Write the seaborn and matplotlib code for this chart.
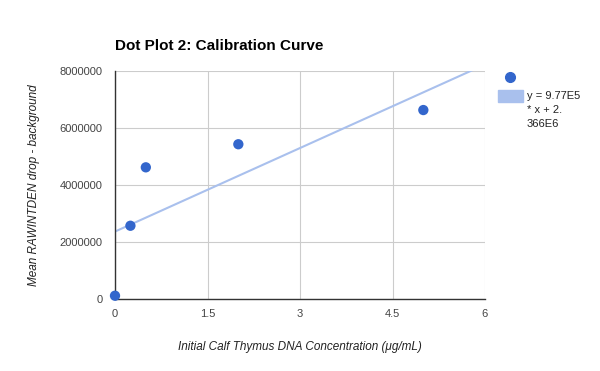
import numpy as np
import pandas as pd
import matplotlib
matplotlib.use("Agg")
import matplotlib.pyplot as plt
import matplotlib.patches as mpatches
from matplotlib.lines import Line2D
import seaborn as sns

# data
conc = [0, 0.25, 0.5, 2, 5]
rawintden = [115000, 2570000, 4620000, 5430000, 6630000]
slope = 9.77e5
intercept = 2.366e6
x_ticks = [0, 1.5, 3, 4.5, 6]
y_ticks = [0, 2000000, 4000000, 6000000, 8000000]
trend_label = ["y = 9.77E5", "* x + 2.", "366E6"]

df = pd.DataFrame({"conc": conc, "val": rawintden})

sns.set_style("white")
plt.rcParams["font.family"] = ["Liberation Sans", "DejaVu Sans"]

W, H = 600, 371
fig = plt.figure(figsize=(6, 3.71), dpi=100)
ax = fig.add_axes([115 / W, 1 - 299 / H, 370 / W, 228 / H])

ax.set_xlim(0, 6)
ax.set_ylim(0, 8000000)

# trendline
line_x = np.array([0, 6])
line_df = pd.DataFrame({"x": line_x, "y": slope * line_x + intercept})
sns.lineplot(data=line_df, x="x", y="y", ax=ax, color="#a9c0ed", linewidth=1.5, zorder=2)

sns.scatterplot(data=df, x="conc", y="val", ax=ax, color="#3366cc", s=55,
                edgecolor="none", zorder=3, clip_on=False)

ax.set_xticks(x_ticks)
ax.set_xticklabels(["0", "1.5", "3", "4.5", "6"])
ax.set_yticks(y_ticks)
ax.set_yticklabels([str(v) for v in y_ticks])
ax.tick_params(axis="both", length=0, labelsize=8, colors="#444444")
ax.tick_params(axis="y", pad=9)
ax.tick_params(axis="x", pad=7)
ax.grid(True, color="#cccccc", linewidth=0.8)
ax.set_axisbelow(True)
for s in ["top", "right"]:
    ax.spines[s].set_visible(False)
for s in ["left", "bottom"]:
    ax.spines[s].set_color("#333333")
    ax.spines[s].set_linewidth(1)

ax.set_xlabel("Initial Calf Thymus DNA Concentration (μg/mL)", fontsize=8.5,
              style="italic", color="#222222", labelpad=16)
ax.set_ylabel("Mean RAWINTDEN drop - background", fontsize=8.5,
              style="italic", color="#222222", labelpad=14)

fig.text(115 / W, 1 - 46 / H, "Dot Plot 2: Calibration Curve",
         fontsize=11, fontweight="bold", color="#000000", va="center")

# legend, placed by hand
fig.add_artist(Line2D([510 / W], [1 - 77 / H], marker="o", color="#3366cc",
                      linestyle="none", markersize=7))
fig.add_artist(mpatches.Rectangle((498 / W, 1 - 102 / H), 25 / W, 12 / H,
                                  color="#a9c0ed", transform=fig.transFigure))
for i, s in enumerate(trend_label):
    fig.text(527 / W, 1 - (96 + 14 * i) / H, s, fontsize=8, color="#222222",
             va="center")

fig.savefig("out.png", dpi=100)
